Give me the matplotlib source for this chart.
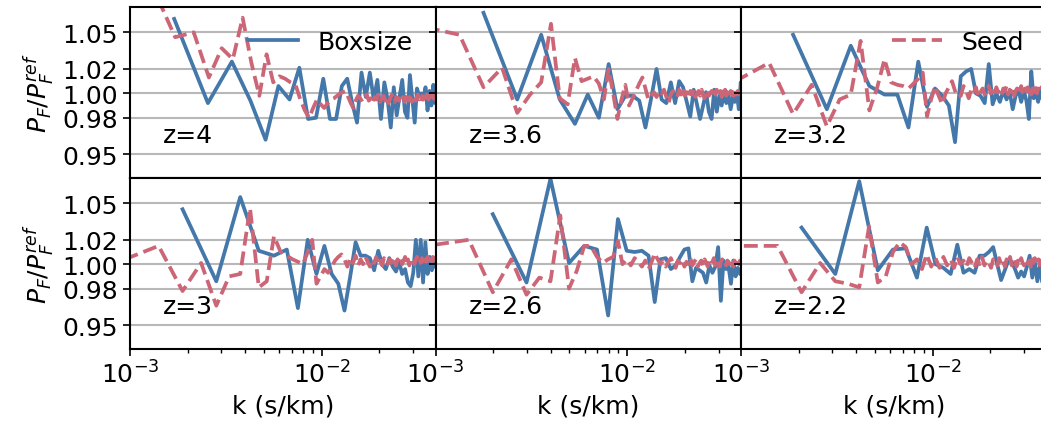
import numpy as np
import matplotlib.pyplot as plt

# Flux power ratio P_F / P_F^ref versus k for two convergence tests:
# a change of box size ("Boxsize") and a change of random seed ("Seed").
redshifts = ["4", "3.6", "3.2", "3", "2.6", "2.2"]

# fundamental k-spacing (s/km) of each run at each redshift; modes start at n = 2
dk_box = [0.85e-3, 0.89e-3, 0.935e-3, 0.94e-3, 0.995e-3, 1.035e-3]
dk_seed = [0.43e-3, 0.445e-3, 0.4675e-3, 0.47e-3, 0.4975e-3, 0.5175e-3]

box_z4 = [1.061, 0.992, 1.026, 0.994, 0.962, 1.006, 0.995, 1.021, 0.979, 0.980,
          1.012, 0.979, 0.979, 1.006, 1.012, 0.992, 0.976, 1.017, 0.997, 1.017,
          0.995, 1.011, 0.979, 1.009, 0.995, 0.972, 1.005, 0.982, 0.997, 1.011,
          0.985, 0.980, 1.015, 0.995, 0.976, 1.004, 0.998, 1.000, 0.996, 1.005,
          0.986, 1.002, 0.990, 1.007, 0.992, 0.998]
box_z36 = [1.066, 0.995, 1.048, 0.995, 0.975, 0.999, 0.980, 1.024, 0.987, 0.998,
           0.998, 0.994, 0.972, 0.996, 1.020, 0.995, 0.992, 1.009, 0.992, 1.010,
           1.005, 0.993, 0.981, 1.003, 0.991, 0.979, 0.990, 1.001, 0.985, 0.979,
           1.003, 0.985, 0.998, 0.990, 1.002, 0.992, 0.998, 0.987, 0.997, 0.993,
           1.000, 0.987, 1.009, 1.000]
box_z32 = [1.048, 0.987, 1.039, 1.006, 0.999, 0.999, 0.972, 1.026, 0.989, 1.004,
           0.998, 0.990, 0.960, 1.014, 1.018, 1.020, 1.000, 0.998, 0.992, 1.024,
           0.991, 1.000, 0.993, 1.002, 0.995, 1.001, 0.987, 0.998, 1.003, 0.993,
           1.002, 0.994, 0.979, 1.018, 0.996, 1.000, 0.993, 1.003, 0.995, 1.004,
           0.998, 1.000]
box_z3 = [1.045, 0.986, 1.055, 1.011, 1.007, 1.012, 0.964, 1.020, 0.992, 1.015,
          0.992, 0.984, 0.962, 0.990, 1.018, 1.007, 1.007, 1.005, 0.995, 1.011,
          1.000, 0.996, 1.005, 0.998, 0.994, 1.002, 0.992, 0.996, 0.985, 0.982,
          0.993, 1.020, 0.990, 1.020, 0.985, 1.018, 0.992, 1.006, 0.995, 1.003,
          0.998]
box_z26 = [1.041, 0.985, 1.070, 1.001, 1.015, 1.012, 0.958, 1.037, 1.011, 1.010,
           1.011, 1.007, 0.969, 1.004, 1.005, 0.996, 0.999, 1.006, 1.012, 1.013,
           0.986, 0.997, 0.995, 0.993, 0.985, 0.999, 0.993, 0.998, 1.014, 0.970,
           1.003, 0.996, 0.998, 0.984, 1.003, 0.990, 0.997, 0.992, 0.996]
box_z22 = [1.030, 0.992, 1.068, 0.995, 1.012, 1.013, 0.989, 1.030, 1.000, 0.997,
           0.992, 1.016, 0.993, 0.996, 0.993, 1.007, 1.007, 1.010, 1.014, 1.000,
           0.987, 0.995, 1.003, 1.002, 0.996, 0.989, 0.994, 0.990, 0.998, 1.007,
           0.989, 1.002, 0.986, 0.998, 0.986, 0.995, 0.990, 0.993]

seed_z4 = [1.100, 1.090, 1.046, 1.050, 1.013, 1.037, 1.028, 1.062, 1.025, 0.998,
           1.032, 1.009, 1.014, 1.012, 1.009, 1.007, 0.995, 0.986, 0.980, 0.988,
           0.995, 0.991, 0.988, 0.992, 0.995, 0.996, 0.998, 1.000, 1.001, 1.002,
           0.997, 0.992, 0.988, 0.994, 0.998, 0.996,
           0.993, 0.997, 0.999, 0.994, 0.996, 0.992, 0.997, 0.995, 0.999, 0.993,
           0.996, 0.998, 0.994, 0.997, 0.992, 0.996, 0.999, 0.995, 0.993, 0.997,
           0.996, 0.994, 0.998, 0.995, 0.997, 0.993, 0.996, 0.999, 0.994, 0.997,
           0.995, 0.993, 0.998, 0.996, 0.994, 0.997, 0.999, 0.995, 0.996, 0.993,
           0.998, 0.995, 0.997, 0.994, 0.999, 0.996, 0.995, 0.998, 0.994, 0.997,
           0.999, 0.996, 0.998, 0.995, 0.999, 0.998]
seed_z36 = [1.054, 1.048, 1.005, 1.021, 0.984, 0.999, 1.009, 1.057, 0.996, 0.991,
            1.029, 1.010, 1.012, 1.014, 1.008, 0.995, 1.020, 1.000, 0.979, 0.995,
            1.007, 0.990, 0.996, 1.002, 1.008, 1.013, 1.004, 0.995, 0.998, 1.001,
            0.997, 1.002, 1.000, 1.003, 0.997, 0.992,
            0.999, 1.002, 1.000, 0.997, 1.003, 0.999, 1.004, 0.998, 1.001, 0.996,
            1.002, 0.999, 1.003, 0.997, 1.000, 1.002, 0.998, 1.003, 0.999, 0.996,
            1.001, 1.003, 0.998, 1.000, 1.002, 0.997, 1.001, 0.999, 1.003, 0.998,
            1.000, 1.002, 0.997, 1.001, 0.999, 1.003, 0.998, 1.001, 1.000, 0.997,
            1.002, 0.999, 1.001, 0.998, 1.003, 1.000, 0.999, 1.002, 1.001, 0.999,
            1.003, 1.002, 1.004, 1.003]
seed_z32 = [1.010, 1.025, 0.983, 1.007, 0.973, 0.995, 0.999, 1.043, 0.986, 1.005,
            1.028, 1.009, 1.007, 1.006, 1.004, 1.008, 1.012, 1.017, 0.981, 0.995,
            1.006, 0.998, 0.991, 1.000, 1.005, 1.010, 1.002, 0.997, 0.998, 1.006,
            1.002, 0.996, 1.003, 1.000, 1.005, 0.997, 1.001,
            1.004, 0.999, 1.003, 1.006, 1.000, 1.002, 0.998, 1.005, 1.001, 1.003,
            0.999, 1.004, 1.002, 1.006, 0.999, 1.003, 1.001, 1.005, 0.998, 1.002,
            1.004, 1.000, 1.003, 1.006, 1.001, 0.999, 1.004, 1.002, 1.005, 1.000,
            1.003, 0.999, 1.004, 1.001, 1.006, 1.002, 1.000, 1.004, 1.003, 1.001,
            1.005, 1.002, 0.999, 1.004, 1.003, 1.006, 1.001, 1.004, 1.002, 1.005]
seed_z3 = [1.004, 1.015, 0.978, 1.001, 0.966, 0.990, 0.992, 1.046, 0.981, 0.986,
           1.023, 1.010, 1.007, 1.004, 1.002, 1.000, 1.010, 1.020, 0.984, 0.990,
           0.996, 0.993, 0.998, 1.003, 1.006, 1.008, 1.004, 0.998, 1.005, 1.001,
           1.007, 0.999, 1.004, 1.000, 1.006,
           1.002, 0.998, 1.004, 1.001, 1.006, 1.000, 1.003, 0.999, 1.005, 1.002,
           1.000, 1.004, 1.001, 1.006, 1.003, 0.999, 1.004, 1.002, 1.005, 1.000,
           1.003, 1.006, 1.001, 1.004, 0.999, 1.003, 1.005, 1.002, 1.000, 1.004,
           1.006, 1.002, 1.004, 1.001, 1.005, 1.003, 1.000, 1.004, 1.002, 1.006,
           1.003, 1.005, 1.001, 1.004, 1.006, 1.003, 1.005, 1.007, 1.005, 1.006]
seed_z26 = [1.016, 1.020, 0.977, 1.004, 0.975, 0.989, 0.986, 1.040, 0.980, 0.995,
            1.015, 1.015, 1.006, 1.001, 1.004, 1.006, 1.019, 1.000, 1.004, 0.999,
            1.005, 1.002, 0.998, 1.003, 0.996, 1.002, 1.009, 1.004, 1.000,
            1.003, 0.998, 1.002, 1.005, 1.000, 0.997, 1.003, 1.001, 1.004, 0.998,
            1.002, 1.000, 1.005, 0.999, 1.002, 1.004, 0.998, 1.001, 1.003, 0.999,
            1.004, 1.001, 0.998, 1.003, 1.000, 1.002, 1.005, 0.999, 1.001, 1.003,
            0.998, 1.002, 1.004, 1.000, 1.001, 0.999, 1.003, 1.002, 1.000, 1.004,
            1.001, 0.998, 1.003, 1.001, 1.002, 1.004, 1.000, 1.003, 1.002, 1.004,
            1.003, 1.003]
seed_z22 = [1.015, 1.015, 0.977, 1.001, 0.986, 0.984, 0.981, 1.031, 0.985, 0.990,
            1.010, 1.018, 1.014, 1.000, 1.004, 0.996, 1.008, 0.998, 1.005, 0.997,
            1.006, 0.999, 1.004, 0.997, 1.006, 1.000, 1.003,
            0.998, 1.005, 1.001, 0.997, 1.004, 1.000, 1.006, 0.999, 1.003, 1.001,
            0.997, 1.004, 1.002, 0.999, 1.005, 1.000, 1.003, 0.998, 1.004, 1.001,
            1.006, 0.999, 1.002, 1.004, 0.998, 1.003, 1.000, 1.005, 1.001, 0.999,
            1.004, 1.002, 1.000, 1.003, 0.998, 1.004, 1.001, 1.005, 1.000, 1.002,
            1.004, 0.999, 1.003, 1.001, 1.004, 1.002, 1.000, 1.003, 1.002, 1.004,
            1.003, 1.003]

box_ratios = [box_z4, box_z36, box_z32, box_z3, box_z26, box_z22]
seed_ratios = [seed_z4, seed_z36, seed_z32, seed_z3, seed_z26, seed_z22]

ytick_values = [0.95, 0.98, 1.00, 1.02, 1.05]
ytick_labels = ["0.95", "0.98", "1.00", "1.02", "1.05"]

BLUE = "#4477AA"
RED = "#CC6677"
FS = 18
LW = 2.7

fig, axes = plt.subplots(2, 3, sharex=True, sharey=True,
                         figsize=(10.41, 4.31), dpi=100)
fig.subplots_adjust(left=0.1249, right=1.0053, bottom=0.1879, top=0.9807,
                    wspace=0, hspace=0)

for i, ax in enumerate(axes.flat):
    kb = dk_box[i] * np.arange(2, 2 + len(box_ratios[i]))
    ks = dk_seed[i] * np.arange(2, 2 + len(seed_ratios[i]))
    lb, = ax.plot(kb, box_ratios[i], color=BLUE, lw=LW, label="Boxsize")
    ls, = ax.plot(ks, seed_ratios[i], color=RED, lw=LW, ls="--", label="Seed")
    ax.set_xscale("log")
    ax.set_xlim(1e-3, 0.0393)
    ax.set_ylim(0.9305, 1.0705)
    ax.set_yticks(ytick_values)
    ax.set_yticklabels(ytick_labels)
    ax.grid(axis="y", color="#b8b8b8", lw=1.5)
    ax.tick_params(labelsize=FS, length=5, width=1.2)
    ax.tick_params(which="minor", length=3, width=1.0)
    for sp in ax.spines.values():
        sp.set_linewidth(1.5)
    ax.text(0.108, 0.21, f"z={redshifts[i]}", transform=ax.transAxes, fontsize=FS)
    if i == 0:
        ax.legend(handles=[lb], loc="upper right", frameon=False, fontsize=FS)
    if i == 2:
        ax.legend(handles=[ls], loc="upper right", frameon=False, fontsize=FS)

for ax in axes[:, 0]:
    ax.set_ylabel(r"$P_F/P_F^{ref}$", fontsize=FS)
for ax in axes[1, :]:
    ax.set_xlabel("k (s/km)", fontsize=FS)

fig.savefig("out.png", dpi=100)
